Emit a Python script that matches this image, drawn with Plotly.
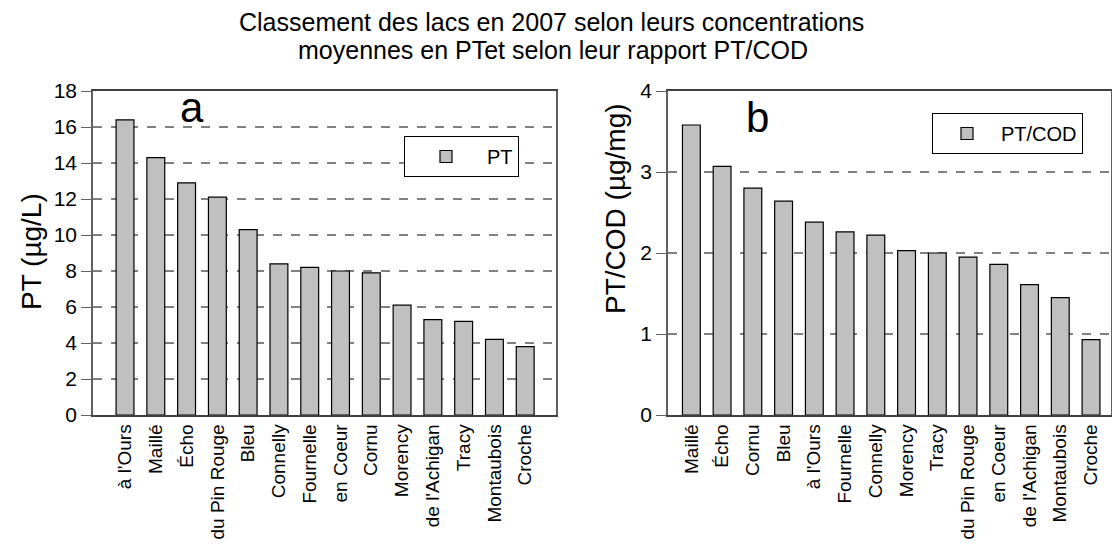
import plotly.graph_objects as go

# Panel a: PT (µg/L)
lacs_pt = ["à l'Ours", "Maillé", "Écho", "du Pin Rouge", "Bleu", "Connelly", "Fournelle",
           "en Coeur", "Cornu", "Morency", "de l'Achigan", "Tracy", "Montaubois", "Croche"]
pt_values = [16.4, 14.3, 12.9, 12.1, 10.3, 8.4, 8.2, 8.0, 7.9, 6.1, 5.3, 5.2, 4.2, 3.8]

# Panel b: PT/COD (µg/mg)
lacs_ratio = ["Maillé", "Écho", "Cornu", "Bleu", "à l'Ours", "Fournelle", "Connelly",
              "Morency", "Tracy", "du Pin Rouge", "en Coeur", "de l'Achigan", "Montaubois", "Croche"]
ratio_values = [3.58, 3.07, 2.80, 2.64, 2.38, 2.26, 2.22, 2.03, 2.00, 1.95, 1.86, 1.61, 1.45, 0.93]

W, H = 1112, 544
FONT = "Liberation Sans, Arial, sans-serif"
BAR_FILL = "#c0c0c0"
GRID = "#808080"

fig = go.Figure()
fig.add_trace(go.Bar(x=lacs_pt, y=pt_values, name="PT", xaxis="x", yaxis="y",
                     marker=dict(color=BAR_FILL, line=dict(color="black", width=1.2)),
                     width=0.58, legend="legend"))
fig.add_trace(go.Bar(x=lacs_ratio, y=ratio_values, name="PT/COD", xaxis="x2", yaxis="y2",
                     marker=dict(color=BAR_FILL, line=dict(color="black", width=1.2)),
                     width=0.58, legend="legend2"))

def px_x(p):
    return p / W

def px_y(p):
    return 1 - p / H

yax_common = dict(showline=True, linecolor="#606060", linewidth=1.5, mirror=True,
                  ticks="outside", ticklen=10, tickcolor="#606060", tickwidth=1.2,
                  showgrid=True, gridcolor=GRID, griddash="dash", gridwidth=1.5,
                  zeroline=False, automargin=False,
                  tickfont=dict(size=21, color="black", family=FONT))
xax_common = dict(showline=True, linecolor="#404040", linewidth=1.5, mirror=True,
                  ticks="", tickangle=-90, showgrid=False, type="category", automargin=False,
                  tickfont=dict(size=19, color="black", family=FONT))

fig.update_layout(
    template="none",
    width=W, height=H,
    margin=dict(l=0, r=0, t=0, b=0, autoexpand=False),
    paper_bgcolor="white", plot_bgcolor="white",
    font=dict(family=FONT, color="black"),
    bargap=0.4,
    xaxis=dict(domain=[px_x(93), px_x(556)], anchor="y", range=[-1.04, 14.0], **xax_common),
    yaxis=dict(domain=[px_y(415), px_y(91)], anchor="x", range=[0, 18], dtick=2, **yax_common),
    xaxis2=dict(domain=[px_x(668), px_x(1111)], anchor="y2", range=[-0.76, 13.65], **xax_common),
    yaxis2=dict(domain=[px_y(415), px_y(91)], anchor="x2", range=[0, 4], dtick=1, **yax_common),
    legend=dict(x=px_x(404), y=px_y(136), xanchor="left", yanchor="top",
                bgcolor="white", bordercolor="black", borderwidth=1,
                font=dict(size=20, family=FONT), itemwidth=72),
    legend2=dict(x=px_x(932), y=px_y(113), xanchor="left", yanchor="top",
                 bgcolor="white", bordercolor="black", borderwidth=1,
                 font=dict(size=20, family=FONT), itemwidth=58),
    showlegend=True,
)

annotations = [
    dict(text="Classement des lacs en 2007 selon leurs concentrations", x=px_x(551), y=px_y(22),
         font=dict(size=25)),
    dict(text="moyennes en PTet selon leur rapport PT/COD", x=px_x(553), y=px_y(50),
         font=dict(size=25)),
    dict(text="PT (µg/L)", x=px_x(31), y=px_y(252), textangle=-90, font=dict(size=28)),
    dict(text="PT/COD (µg/mg)", x=px_x(615), y=px_y(209), textangle=-90, font=dict(size=28)),
    dict(text="a", x=px_x(192), y=px_y(108), font=dict(size=42)),
    dict(text="b", x=px_x(757), y=px_y(117), font=dict(size=42)),
]
for a in annotations:
    a.update(xref="paper", yref="paper", showarrow=False, xanchor="center", yanchor="middle")
    a["font"].update(family=FONT, color="black")
fig.update_layout(annotations=annotations)

fig.write_html("out.html", config={"displayModeBar": False},
               post_script="document.body.style.margin='0';document.body.style.overflow='hidden';")
